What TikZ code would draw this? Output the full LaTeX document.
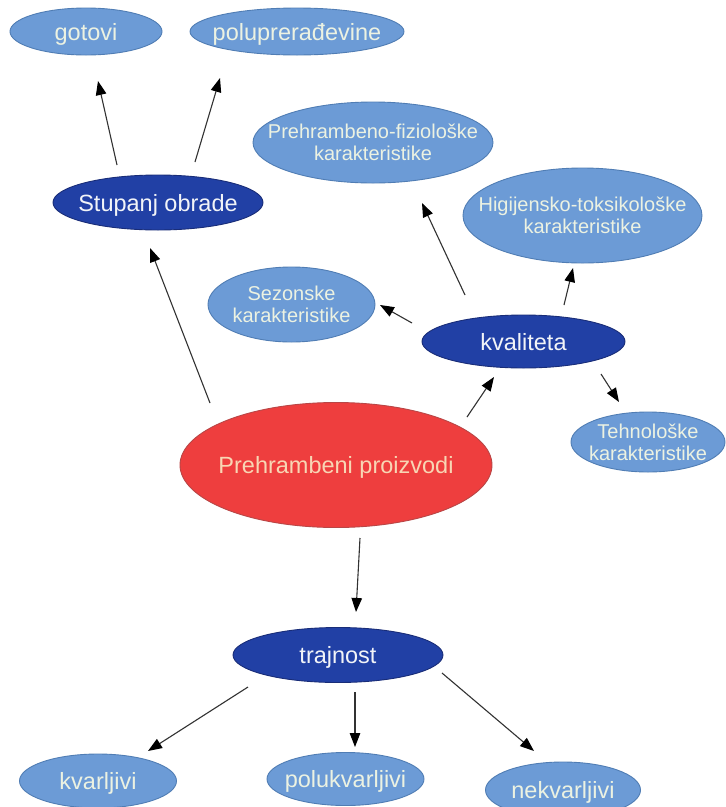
\documentclass[tikz,border=0pt]{standalone}
\usepackage{fontspec}
\setmainfont{Liberation Sans}
\usetikzlibrary{shapes.geometric,arrows.meta,calc}
\definecolor{lblue}{RGB}{108,155,214}
\definecolor{lblueb}{RGB}{80,125,180}
\definecolor{dblue}{RGB}{33,64,165}
\definecolor{dblueb}{RGB}{25,45,120}
\definecolor{rred}{RGB}{238,62,62}
\definecolor{rredb}{RGB}{185,70,70}
\definecolor{txtl}{RGB}{236,242,226}
\definecolor{txtd}{RGB}{242,244,248}
\definecolor{txtr}{RGB}{248,214,180}
\definecolor{linec}{RGB}{50,50,50}
\tikzset{
  ell/.style={ellipse, inner sep=0pt, line width=0.9pt},
  lightell/.style={ell, fill=lblue, draw=lblueb},
  darkell/.style={ell, fill=dblue, draw=dblueb},
  redell/.style={ell, fill=rred, draw=rredb},
  onetext/.style={inner sep=0pt, font=\fontsize{23.5}{26}\selectfont, text height=17pt, text depth=0pt},
  twotext/.style={inner sep=0pt, align=center, font=\fontsize{20}{22}\selectfont, text=txtl},
  arr/.style={draw=linec, line width=1.1pt, -{Triangle[length=14pt,width=10.5pt,color=black]}}
}
\begin{document}
\begin{tikzpicture}[x=1pt,y=-1pt]
\useasboundingbox (0,0) rectangle (726,807);
\fill[white] (0,0) rectangle (726,807);

% ellipses
\node[lightell, minimum width=152, minimum height=47] (go) at (86,31.5) {};
\node[lightell, minimum width=214, minimum height=47] (pd) at (297,31.5) {};
\node[darkell, minimum width=210, minimum height=55] (so) at (158,202.5) {};
\node[lightell, minimum width=240, minimum height=81] (pf) at (373,142.5) {};
\node[lightell, minimum width=239, minimum height=95] (ht) at (582.5,215.5) {};
\node[lightell, minimum width=167, minimum height=75] (sz) at (291.5,304.5) {};
\node[darkell, minimum width=203, minimum height=53] (kv) at (523.5,341.5) {};
\node[lightell, minimum width=154, minimum height=60] (th) at (648,442) {};
\node[redell, minimum width=312, minimum height=125] (pp) at (336,465) {};
\node[darkell, minimum width=210, minimum height=55] (tr) at (338,655) {};
\node[lightell, minimum width=157, minimum height=54] (kl) at (98,781) {};
\node[lightell, minimum width=157, minimum height=53] (pk) at (345.5,779) {};
\node[lightell, minimum width=155, minimum height=56] (nk) at (563,790) {};

% texts
\node[onetext, text=txtl] (got) at (go) {gotovi};
\node[onetext, text=txtl] (pdt) at (pd) {poluprerađevine};
\node[onetext, text=txtd] (sot) at (so) {Stupanj obrade};
\node[twotext] (pft) at (pf) {Prehrambeno-fiziološke\\karakteristike};
\node[twotext] (htt) at (ht) {Higijensko-toksikološke\\karakteristike};
\node[twotext] (szt) at (sz) {Sezonske\\karakteristike};
\node[onetext, text=txtd] (kvt) at (kv) {kvaliteta};
\node[twotext] (tht) at (th) {Tehnološke\\karakteristike};
\node[onetext, text=txtr] (ppt) at (pp) {Prehrambeni proizvodi};
\node[onetext, text=txtd] (trt) at (tr) {trajnost};
\node[onetext, text=txtl] (klt) at (kl) {kvarljivi};
\node[onetext, text=txtl] (pkt) at (pk) {polukvarljivi};
\node[onetext, text=txtl] (nkt) at (nk) {nekvarljivi};

% connectors
\draw[arr] ($(so)+(-41,-37.5)$) -- ($(go)+(12,49.5)$);
\draw[arr] ($(so)+(37,-40.5)$) -- ($(pd)+(-77,46.5)$);
\draw[arr] ($(pp)+(-126,-62)$) -- ($(so)+(-8,45.5)$);
\draw[arr] ($(pp)+(131,-48)$) -- ($(kv)+(-29.5,35.5)$);
\draw[arr] ($(kv)+(-58.5,-46.5)$) -- ($(pf)+(49,60.5)$);
\draw[arr] ($(kv)+(40.5,-36.5)$) -- ($(ht)+(-9.5,52.5)$);
\draw[arr] ($(kv)+(-111.5,-18.5)$) -- ($(sz)+(88.5,0.5)$);
\draw[arr] ($(kv)+(77.5,32.5)$) -- ($(th)+(-29,-40)$);
\draw[arr] ($(pp)+(24,73)$) -- ($(tr)+(18,-43)$);
\draw[arr] ($(tr)+(-90,32)$) -- ($(kl)+(50,-30)$);
\draw[arr] ($(tr)+(17,37)$) -- ($(pk)+(9.5,-32)$);
\draw[arr] ($(tr)+(104,18)$) -- ($(nk)+(-29,-39)$);
\end{tikzpicture}
\end{document}
